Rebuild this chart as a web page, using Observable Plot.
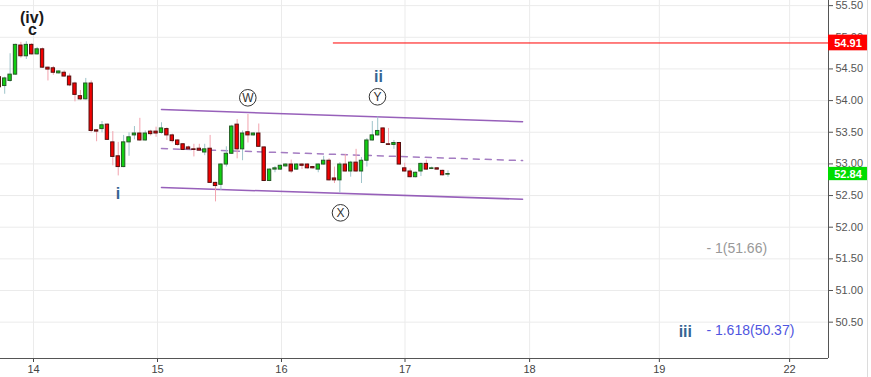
<!DOCTYPE html>
<html><head><meta charset="utf-8">
<script src="https://cdn.jsdelivr.net/npm/d3@7"></script>
<script src="https://cdn.jsdelivr.net/npm/@observablehq/plot@0.6"></script>
<style>body{margin:0;background:#fff;} svg{display:block}</style>
</head><body><div id="chart"></div>
<script>
// Hourly candles, index 0..83
const opens = [54.37,54.23,54.31,54.41,54.87,54.70,54.88,54.73,54.81,54.52,
54.51,54.43,54.44,54.38,54.27,54.07,54.02,54.27,53.53,53.55,
53.62,53.34,53.12,52.95,53.34,53.45,53.48,53.37,53.51,53.51,
53.49,53.55,53.45,53.37,53.31,53.26,53.23,53.24,53.18,53.24,
52.70,52.67,52.99,53.16,53.62,53.23,53.50,53.45,53.48,53.26,
52.73,52.91,52.91,52.96,52.99,52.91,52.99,52.99,52.95,52.91,
52.99,53.05,52.77,52.74,52.99,52.88,53.02,52.88,53.05,53.37,
53.45,53.56,53.31,53.30,53.33,52.93,52.88,52.79,52.88,53.00,
52.92,52.93,52.89,52.83];
const highs = [54.40,54.37,54.74,54.89,54.92,54.93,54.90,54.84,54.83,54.53,
54.54,54.47,54.47,54.42,54.29,54.16,54.35,54.31,53.54,53.67,
53.63,53.51,53.34,53.45,53.49,53.59,53.72,53.52,53.53,53.58,
53.65,53.57,53.47,53.38,53.32,53.28,53.31,53.31,53.31,53.45,
52.71,53.00,53.27,53.61,53.70,53.52,53.78,53.49,53.63,53.27,
52.92,52.96,52.98,53.00,53.06,53.00,53.00,53.00,52.96,53.00,
53.12,53.08,52.95,53.02,53.15,53.04,53.23,53.10,53.40,53.67,
53.74,53.57,53.56,53.37,53.34,53.01,52.92,52.87,53.01,53.06,
52.95,52.94,52.90,52.89];
const lows = [54.18,54.10,54.29,54.40,54.67,54.65,54.72,54.72,54.51,54.31,
54.40,54.42,54.37,54.22,53.98,54.00,54.01,53.49,53.35,53.49,
53.37,52.97,52.81,52.94,53.12,53.38,53.36,53.36,53.44,53.42,
53.47,53.37,53.33,53.28,53.21,53.22,53.11,53.20,53.13,52.69,
52.40,52.58,52.95,53.15,53.08,53.05,53.33,53.44,53.26,52.72,
52.72,52.86,52.90,52.95,52.85,52.90,52.91,52.92,52.92,52.86,
52.98,52.73,52.69,52.54,52.87,52.79,52.87,52.69,52.95,53.36,
53.44,53.32,53.29,53.23,52.98,52.87,52.78,52.78,52.80,52.90,
52.91,52.90,52.81,52.79];
const closes = [54.21,54.35,54.41,54.88,54.70,54.88,54.73,54.81,54.52,54.49,
54.44,54.46,54.38,54.24,54.09,54.02,54.27,53.52,53.51,53.61,
53.38,53.11,52.95,53.34,53.42,53.48,53.37,53.48,53.47,53.48,
53.56,53.45,53.36,53.30,53.22,53.23,53.22,53.21,53.23,52.70,
52.65,52.99,53.16,53.59,53.23,53.48,53.45,53.48,53.27,52.73,
52.91,52.93,52.97,52.99,52.88,52.99,52.97,52.93,52.93,52.99,
53.05,52.74,52.74,52.99,52.88,53.02,52.88,53.05,53.37,53.45,
53.52,53.33,53.30,53.33,52.99,52.88,52.79,52.86,53.00,52.91,
52.93,52.91,52.82,52.84];

const dayTicks = [6.33, 29.27, 52.2, 75.05, 98.1, 122.1, 146.2];
const dayLabels = ["14","15","16","17","18","19","22"];
const priceTicks = [50.5,51,51.5,52,52.5,53,53.5,54,54.5,55,55.5];

const channelX = [30.0, 96.8];
const channelUpper = [53.858, 53.665];
const channelMid = [53.242, 53.052];
const channelLower = [52.626, 52.441];

const targetPrice = 54.91;
const targetStart = 61.8;
const lastPrice = 52.84;

const waveBlackText = ["(iv)", "c"];
const waveBlackX = [6.05, 6.15];
const waveBlackY = [55.31, 55.12];
const waveBlueText = ["i", "ii", "iii"];
const waveBlueX = [21.96, 70.15, 126.9];
const waveBlueY = [52.53, 54.37, 50.35];

const circleText = ["W", "X", "Y"];
const circleX = [45.97, 63.12, 69.96];
const circleY = [54.044, 52.227, 54.06];

const fibText = ["- 1(51.66)", "- 1.618(50.37)"];
const fibPrice = [51.66, 50.37];
const fibX = 130.8;

const xDomain = [0.223, 153.39];
const yDomain = [49.926, 55.581];
const boxEnd = 160.6;

const candles = opens.map((o, i) => ({i, o, h: highs[i], l: lows[i], c: closes[i]}));
const up = candles.filter(d => d.c >= d.o);
const down = candles.filter(d => d.c < d.o);
const chan = (ys) => channelX.map((x, k) => ({x, y: ys[k]}));
const zip = (xs, ys, ts) => xs.map((x, k) => ({x, y: ys[k], t: ts[k]}));

const chart = Plot.plot({
  width: 871, height: 377,
  marginLeft: 0, marginRight: 43, marginTop: 0, marginBottom: 19,
  x: {domain: xDomain, axis: null},
  y: {domain: yDomain, axis: null},
  style: {fontFamily: "'Liberation Sans', Arial, sans-serif", background: "#fff"},
  marks: [
    Plot.gridY({ticks: priceTicks, stroke: "#ebebeb", strokeOpacity: 1}),
    Plot.gridX({ticks: dayTicks, stroke: "#ebebeb", strokeOpacity: 1}),
    Plot.axisY({anchor: "right", ticks: priceTicks, tickFormat: d => d.toFixed(2), tickSize: 4, tickPadding: 3, fontSize: 11, color: "#555"}),
    Plot.axisX({ticks: dayTicks, tickFormat: d => dayLabels[dayTicks.indexOf(d)], tickSize: 4, tickPadding: 3, fontSize: 11, color: "#444"}),
    Plot.ruleX([xDomain[1]], {stroke: "#555"}),
    Plot.ruleY([yDomain[0]], {stroke: "#555"}),
    Plot.ruleX([xDomain[1]], {dx: 39, stroke: "#dcdcdc", insetBottom: -19}),
    // channel
    Plot.line(chan(channelUpper), {x: "x", y: "y", stroke: "#8c4fb3", strokeWidth: 1.5, strokeOpacity: 0.9}),
    Plot.line(chan(channelLower), {x: "x", y: "y", stroke: "#8c4fb3", strokeWidth: 1.5, strokeOpacity: 0.9}),
    Plot.line(chan(channelMid), {x: "x", y: "y", stroke: "#a47cc2", strokeWidth: 1.5, strokeDasharray: "6,6"}),
    // target line
    Plot.ruleY([targetPrice], {x1: targetStart, x2: xDomain[1], stroke: "#ff0000", strokeWidth: 1}),
    // wicks
    Plot.ruleX(up, {x: "i", y1: "l", y2: "h", stroke: "#9ec4ca", strokeWidth: 1}),
    Plot.ruleX(down, {x: "i", y1: "l", y2: "h", stroke: "#f2a3ae", strokeWidth: 1}),
    // bodies
    Plot.rect(up, {x1: d => d.i - 0.31, x2: d => d.i + 0.31, y1: "o", y2: "c", fill: "#10cf10", stroke: "#245a24", strokeWidth: 1}),
    Plot.rect(down, {x1: d => d.i - 0.31, x2: d => d.i + 0.31, y1: "o", y2: "c", fill: "#f20000", stroke: "#560f0f", strokeWidth: 1}),
    // wave labels
    Plot.text(zip(waveBlackX, waveBlackY, waveBlackText), {x: "x", y: "y", text: "t", fill: "#1a1a1a", fontWeight: "bold", fontSize: 16}),
    Plot.text(zip(waveBlueX, waveBlueY, waveBlueText), {x: "x", y: "y", text: "t", fill: "#356493", fontWeight: "bold", fontSize: 16}),
    Plot.dot(zip(circleX, circleY, circleText), {x: "x", y: "y", r: 8.3, stroke: "#333", fill: "#fff", strokeWidth: 1}),
    Plot.text(zip(circleX, circleY, circleText), {x: "x", y: "y", text: "t", fill: "#333", fontSize: 12}),
    // fib labels
    Plot.text([{x: fibX, y: fibPrice[0], t: fibText[0]}], {x: "x", y: "y", text: "t", textAnchor: "start", fill: "#999", fontSize: 14}),
    Plot.text([{x: fibX, y: fibPrice[1], t: fibText[1]}], {x: "x", y: "y", text: "t", textAnchor: "start", fill: "#4f55e0", fontSize: 14}),
    // price boxes
    Plot.rect([targetPrice], {x1: () => xDomain[1], x2: () => boxEnd, y1: d => d - 0.124, y2: d => d + 0.124, fill: "#ff0000"}),
    Plot.rect([lastPrice], {x1: () => xDomain[1], x2: () => boxEnd, y1: d => d - 0.105, y2: d => d + 0.105, fill: "#00dd00"}),
    Plot.text([targetPrice, lastPrice], {x: () => (xDomain[1] + boxEnd) / 2, y: d => d, text: d => d.toFixed(2), fill: "#fff", fontWeight: "bold", fontSize: 11})
  ]
});
document.getElementById("chart").appendChild(chart);
</script>
</body></html>
